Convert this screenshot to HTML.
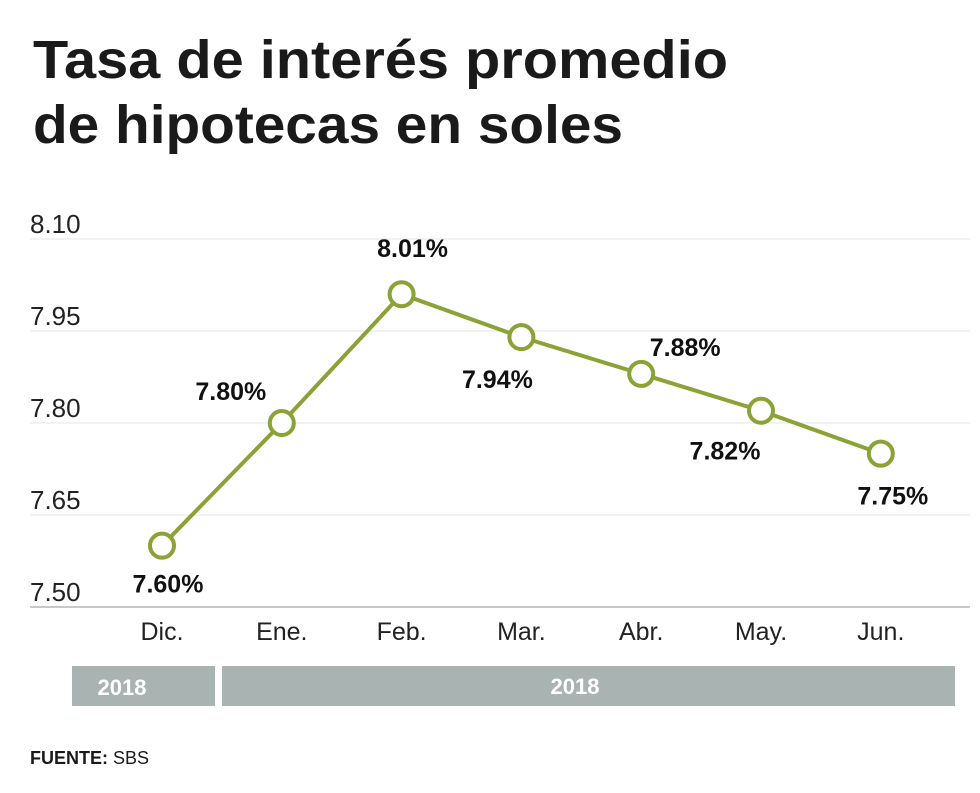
<!DOCTYPE html>
<html><head><meta charset="utf-8"><style>
body{margin:0;background:#fff;}
svg{display:block;font-family:"Liberation Sans",sans-serif;}
</style></head><body>
<svg id="chart" width="980" height="793" viewBox="0 0 980 793">
<text x="33" y="78" font-size="54" font-weight="bold" fill="#1a1a1a" textLength="695" lengthAdjust="spacingAndGlyphs">Tasa de interés promedio</text>
<text x="33" y="143" font-size="54" font-weight="bold" fill="#1a1a1a" textLength="590" lengthAdjust="spacingAndGlyphs">de hipotecas en soles</text>
<g id="grid"></g><g id="marks"></g>
<rect x="72" y="666" width="143" height="40" fill="#a9b4b2"/>
<text x="122" y="695" font-size="22" font-weight="bold" fill="#fff" text-anchor="middle">2018</text>
<rect x="222" y="666" width="733" height="40" fill="#a9b4b2"/>
<text x="575" y="694" font-size="22" font-weight="bold" fill="#fff" text-anchor="middle">2018</text>
<text x="30" y="764" font-size="18" fill="#1a1a1a"><tspan font-weight="bold">FUENTE:</tspan> SBS</text>
</svg>
<script>
const categories=["Dic.","Ene.","Feb.","Mar.","Abr.","May.","Jun."];
const values=[7.60,7.80,8.01,7.94,7.88,7.82,7.75];
const valueLabels=["7.60%","7.80%","8.01%","7.94%","7.88%","7.82%","7.75%"];
const yTicks=[7.50,7.65,7.80,7.95,8.10];
const yTickLabels=["7.50","7.65","7.80","7.95","8.10"];
const labelDx=[6,-51,11,-24,44,-36,12];
const labelDy=[47,-23,-37,51,-18,49,51];
const NS="http://www.w3.org/2000/svg";
const y=v=>607-(v-7.5)/0.15*92;
const x=i=>162+i*119.8;
function mk(t,a,p){const e=document.createElementNS(NS,t);for(const k in a)e.setAttribute(k,a[k]);p.appendChild(e);return e;}
const g=document.getElementById('grid'),m=document.getElementById('marks');
yTicks.forEach((v,i)=>{
 const l=mk('line',{x1:30,x2:970,y1:y(v),y2:y(v),stroke:i==0?'#c8c8c8':'#e6e6e6','stroke-width':i==0?2:1},g);
 
 
 const t=mk('text',{x:30,y:y(v)-6,'font-size':26,fill:'#222'},g);t.textContent=yTickLabels[i];
 
 
});
categories.forEach((c,i)=>{
 const t=mk('text',{x:x(i),y:640,'font-size':25,fill:'#222','text-anchor':'middle'},g);t.textContent=c;
 
 
});
const pl=mk('polyline',{points:values.map((v,i)=>x(i)+','+y(v)).join(' '),fill:'none',stroke:'#8aa236','stroke-width':4},m);


values.forEach((v,i)=>{
 const c=mk('circle',{cx:x(i),cy:y(v),r:12,fill:'#fff',stroke:'#8aa236','stroke-width':4},m);
 
 
 const t=mk('text',{x:x(i)+labelDx[i],y:y(v)+labelDy[i],'font-size':25,'font-weight':'bold',fill:'#111','text-anchor':'middle'},m);
 t.textContent=valueLabels[i];
 
 
});
</script>
</body></html>
